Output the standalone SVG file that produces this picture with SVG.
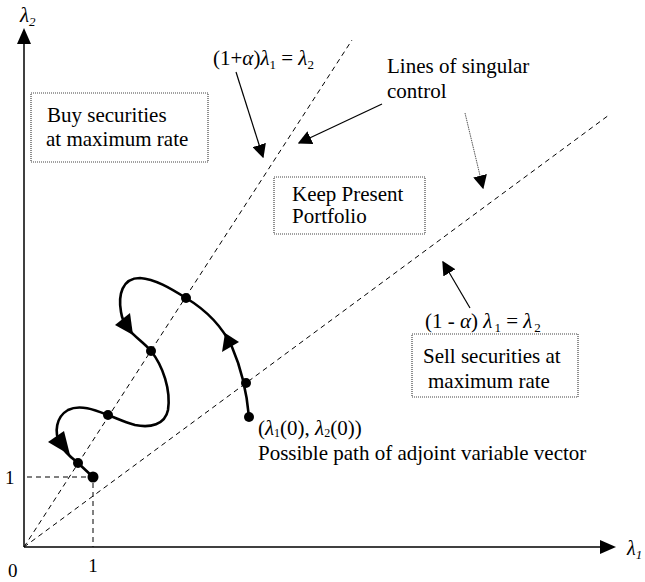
<svg xmlns="http://www.w3.org/2000/svg" width="645" height="582" viewBox="0 0 645 582">
<style>
text{font-family:"Liberation Serif","Times New Roman",serif;font-size:21px;fill:#000}
.it{font-style:italic}
.sub{font-size:13px}
.dash{stroke:#000;stroke-width:1;stroke-dasharray:5,4;fill:none}
.box{fill:#fff;stroke:#444;stroke-width:1.2;stroke-dasharray:1,1}
.ptr{stroke:#000;stroke-width:1.2;fill:none}
.path{stroke:#000;stroke-width:2.6;fill:none}
.dot{fill:#000}
</style>
<defs>
<marker id="ah" viewBox="0 0 10 10" refX="9" refY="5" markerWidth="14" markerHeight="14" markerUnits="userSpaceOnUse" orient="auto">
<path d="M0,0 L10,5 L0,10 z" fill="#000"/>
</marker>
</defs>
<g id="axes">
<line x1="24" y1="547" x2="24" y2="42" stroke="#000" stroke-width="1.5"/>
<polygon points="24,28 17,44 31,44" fill="#000"/>
<line x1="24" y1="547" x2="602" y2="547" stroke="#000" stroke-width="1.5"/>
<polygon points="616,547 600,540 600,554" fill="#000"/>
<text x="20" y="22" class="it" style="font-size:21px">λ<tspan class="sub" dy="4">2</tspan></text>
<text x="627" y="555" class="it" style="font-size:20px">λ<tspan class="sub" dy="4">1</tspan></text>
<text x="8" y="577" style="font-size:19px">0</text>
<text x="93" y="572" text-anchor="middle" style="font-size:19px">1</text>
<text x="5" y="484" style="font-size:19px">1</text>
</g>
<g id="connectors">
<line class="dash" x1="24" y1="547" x2="352" y2="40"/>
<line class="dash" x1="24" y1="547" x2="609" y2="115"/>
<polyline class="dash" points="27,477 93,477 93,547"/>
<line class="ptr" x1="236" y1="72" x2="263" y2="157" marker-end="url(#ah)"/>
<line class="ptr" x1="382" y1="104" x2="299" y2="143" marker-end="url(#ah)"/>
<line x1="465" y1="113" x2="483" y2="188" stroke="#555" stroke-width="1" stroke-dasharray="1.5,0.8" marker-end="url(#ah)"/>
<line class="ptr" x1="470" y1="308" x2="443" y2="262" marker-end="url(#ah)"/>
</g>
<g id="path">
<path class="path" d="M249,417 C247,395 242,370 232,347 C222,326 206,310 186,298 C170,288 155,279 140,278 C122,278 118,295 121,312 C124,332 140,338 151,351 C163,366 171,390 168,410 C165,425 150,428 135,425 C124,422 116,418 108,415 C95,410 80,404 68,410 C56,417 54,432 60,444 C65,453 72,458 78,463 L93,477"/>
<polygon points="225,333 222,352 239,342" fill="#000"/>
<polygon points="133,335 115,325 130,313" fill="#000"/>
<polygon points="70,455 48,442 64,431" fill="#000"/>
<circle class="dot" cx="249" cy="417" r="5"/>
<circle class="dot" cx="246" cy="383" r="5"/>
<circle class="dot" cx="186" cy="298" r="5"/>
<circle class="dot" cx="151" cy="351" r="5"/>
<circle class="dot" cx="108" cy="415" r="5"/>
<circle class="dot" cx="78" cy="463" r="5"/>
<circle class="dot" cx="93" cy="477" r="5.5"/>
</g>
<g id="buy">
<rect class="box" x="31" y="93" width="177" height="69"/>
<text x="47" y="122">Buy securities</text>
<text x="46" y="146">at maximum rate</text>
</g>
<g id="keep">
<rect class="box" x="274" y="177" width="151" height="57"/>
<text x="292" y="201">Keep Present</text>
<text x="292" y="223">Portfolio</text>
</g>
<g id="sell">
<rect class="box" x="412" y="334" width="166" height="63"/>
<text x="423" y="363">Sell securities at</text>
<text x="428" y="388">maximum rate</text>
</g>
<g id="labels">
<text x="213" y="65">(1+<tspan class="it">α</tspan>)<tspan class="it">λ</tspan><tspan class="sub" dy="4">1</tspan><tspan dy="-4"> = </tspan><tspan class="it">λ</tspan><tspan class="sub" dy="4">2</tspan></text>
<text x="387" y="73">Lines of singular</text>
<text x="387" y="98">control</text>
<text x="425" y="328">(1 - <tspan class="it">α</tspan>) <tspan class="it">λ</tspan><tspan class="sub" dx="2" dy="4">1</tspan><tspan dy="-4"> = </tspan><tspan class="it">λ</tspan><tspan class="sub" dx="2" dy="4">2</tspan></text>
<text x="258" y="435">(<tspan class="it">λ</tspan><tspan class="sub" style="font-size:12px" dy="2">1</tspan><tspan dy="-2">(0), </tspan><tspan class="it">λ</tspan><tspan class="sub" style="font-size:12px" dy="2">2</tspan><tspan dy="-2">(0))</tspan></text>
<text x="258" y="460">Possible path of adjoint variable vector</text>
</g>
</svg>
